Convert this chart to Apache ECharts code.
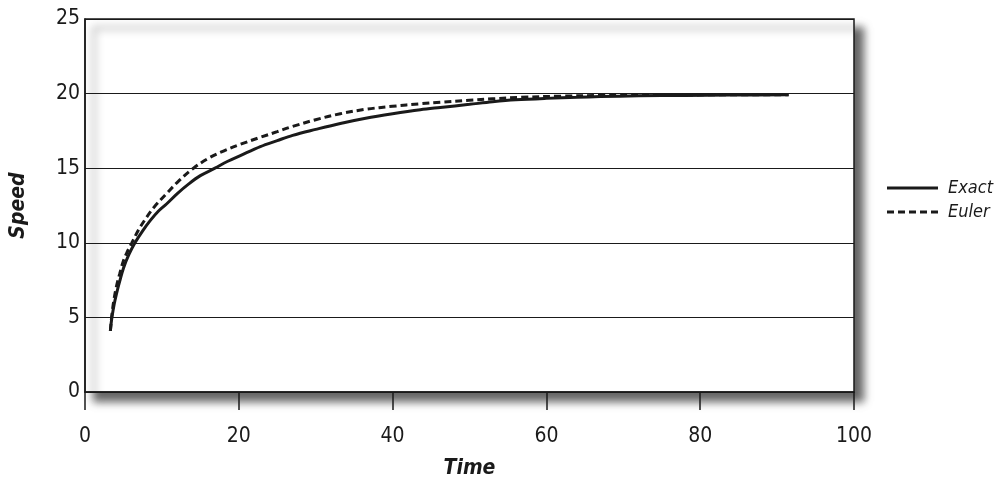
<!DOCTYPE html>
<html>
<head>
<meta charset="utf-8">
<script src="https://cdn.jsdelivr.net/npm/echarts@6/dist/echarts.min.js"></script>
<style>
  html, body { margin: 0; padding: 0; background: #fff; }
  #chart { width: 1000px; height: 490px; }
</style>
</head>
<body>
<div id="chart"></div>
<script>
// Data
var exactTime  = [3.3, 3.4, 3.5, 3.8, 4.1, 4.5, 5.0, 5.7, 6.5, 7.5, 8.5, 9.5, 10.6, 12.0, 13.5, 15.0, 16.9, 18.5, 20.2, 22.8, 25.0, 27.0, 30.0, 33.2, 36.5, 40.0, 43.6, 46.2, 50.0, 53.0, 56.0, 60.0, 64.0, 67.0, 72.0, 78.0, 84.0, 91.5];
var exactSpeed = [4.1, 4.6, 5.0, 5.9, 6.6, 7.4, 8.3, 9.2, 10.0, 10.8, 11.5, 12.1, 12.6, 13.3, 13.95, 14.5, 15.0, 15.45, 15.85, 16.45, 16.85, 17.2, 17.6, 18.0, 18.35, 18.65, 18.92, 19.07, 19.28, 19.45, 19.58, 19.68, 19.75, 19.8, 19.85, 19.88, 19.9, 19.92];
var eulerTime  = [3.3, 3.5, 3.8, 4.1, 4.5, 5.0, 5.5, 6.1, 7.0, 8.0, 9.0, 10.6, 12.3, 14.1, 16.0, 18.0, 20.2, 22.8, 25.0, 27.0, 30.0, 33.2, 36.5, 40.0, 43.6, 46.2, 50.0, 53.0, 56.6, 62.0, 67.0, 75.0, 82.0, 91.5];
var eulerSpeed = [4.1, 5.2, 6.3, 7.1, 7.9, 8.8, 9.4, 10.0, 10.9, 11.7, 12.4, 13.3, 14.2, 15.0, 15.65, 16.15, 16.6, 17.07, 17.45, 17.8, 18.25, 18.65, 18.95, 19.15, 19.32, 19.42, 19.55, 19.65, 19.75, 19.83, 19.87, 19.9, 19.92, 19.93];
var seriesNames = ['Exact', 'Euler'];
var xTicks = [0, 20, 40, 60, 80, 100];
var yTicks = [0, 5, 10, 15, 20, 25];

function pairs(xs, ys) { return xs.map(function (x, i) { return [x, ys[i]]; }); }

var FONT = '"DejaVu Sans Condensed", "Liberation Sans", sans-serif';
var INK = '#1a1a1a';

var chart = echarts.init(document.getElementById('chart'));
chart.setOption({
  animation: false,
  backgroundColor: '#fff',
  grid: {
    left: 85, top: 19, right: 146, bottom: 98,
    outerBoundsMode: 'none',
    containLabel: false,
    show: true,
    backgroundColor: '#fff',
    borderColor: INK,
    borderWidth: 1.5,
    shadowColor: 'rgba(0,0,0,0.6)',
    shadowBlur: 8,
    shadowOffsetX: 9,
    shadowOffsetY: 9
  },
  legend: {
    orient: 'vertical',
    left: 887,
    top: 178,
    padding: 0,
    itemWidth: 51,
    itemHeight: 3,
    itemGap: 4,
    symbolKeepAspect: false,
    data: [
      { name: seriesNames[0], icon: 'path://M0,0h51v3h-51z' },
      { name: seriesNames[1], icon: 'path://M0,0h7v3h-7zM11,0h7v3h-7zM22,0h7v3h-7zM33,0h7v3h-7zM44,0h7v3h-7z' }
    ],
    textStyle: { fontFamily: FONT, fontStyle: 'italic', fontSize: 18, color: INK, lineHeight: 20, padding: [0, 0, 0, 5] }
  },
  xAxis: {
    type: 'value',
    min: xTicks[0], max: xTicks[xTicks.length - 1], interval: 20,
    name: 'Time',
    nameLocation: 'middle',
    nameGap: 66,
    nameTextStyle: { fontFamily: FONT, fontStyle: 'italic', fontWeight: 'bold', fontSize: 21, color: INK },
    axisLine: { show: true, lineStyle: { color: INK, width: 1.5 } },
    axisTick: { show: true, inside: false, length: 18, lineStyle: { color: INK, width: 1.5 } },
    axisLabel: { margin: 34, fontFamily: FONT, fontSize: 21, color: INK },
    splitLine: { show: false }
  },
  yAxis: {
    type: 'value',
    min: yTicks[0], max: yTicks[yTicks.length - 1], interval: 5,
    name: 'Speed',
    nameLocation: 'middle',
    nameGap: 56,
    nameRotate: 90,
    nameTextStyle: { fontFamily: FONT, fontStyle: 'italic', fontWeight: 'bold', fontSize: 21, color: INK },
    axisLine: { show: true, lineStyle: { color: INK, width: 1.5 } },
    axisTick: { show: false },
    axisLabel: { margin: 5, fontFamily: FONT, fontSize: 21, color: INK },
    splitLine: { show: true, lineStyle: { color: INK, width: 1.2 } }
  },
  series: [
    {
      name: seriesNames[0],
      type: 'line',
      smooth: 0.35,
      symbol: 'none',
      data: pairs(exactTime, exactSpeed),
      lineStyle: { color: INK, width: 3, type: 'solid' },
      itemStyle: { color: INK },
      z: 3
    },
    {
      name: seriesNames[1],
      type: 'line',
      smooth: 0.35,
      symbol: 'none',
      data: pairs(eulerTime, eulerSpeed),
      lineStyle: { color: INK, width: 3, type: [7, 4] },
      itemStyle: { color: INK },
      z: 2
    }
  ]
});
</script>
</body>
</html>
